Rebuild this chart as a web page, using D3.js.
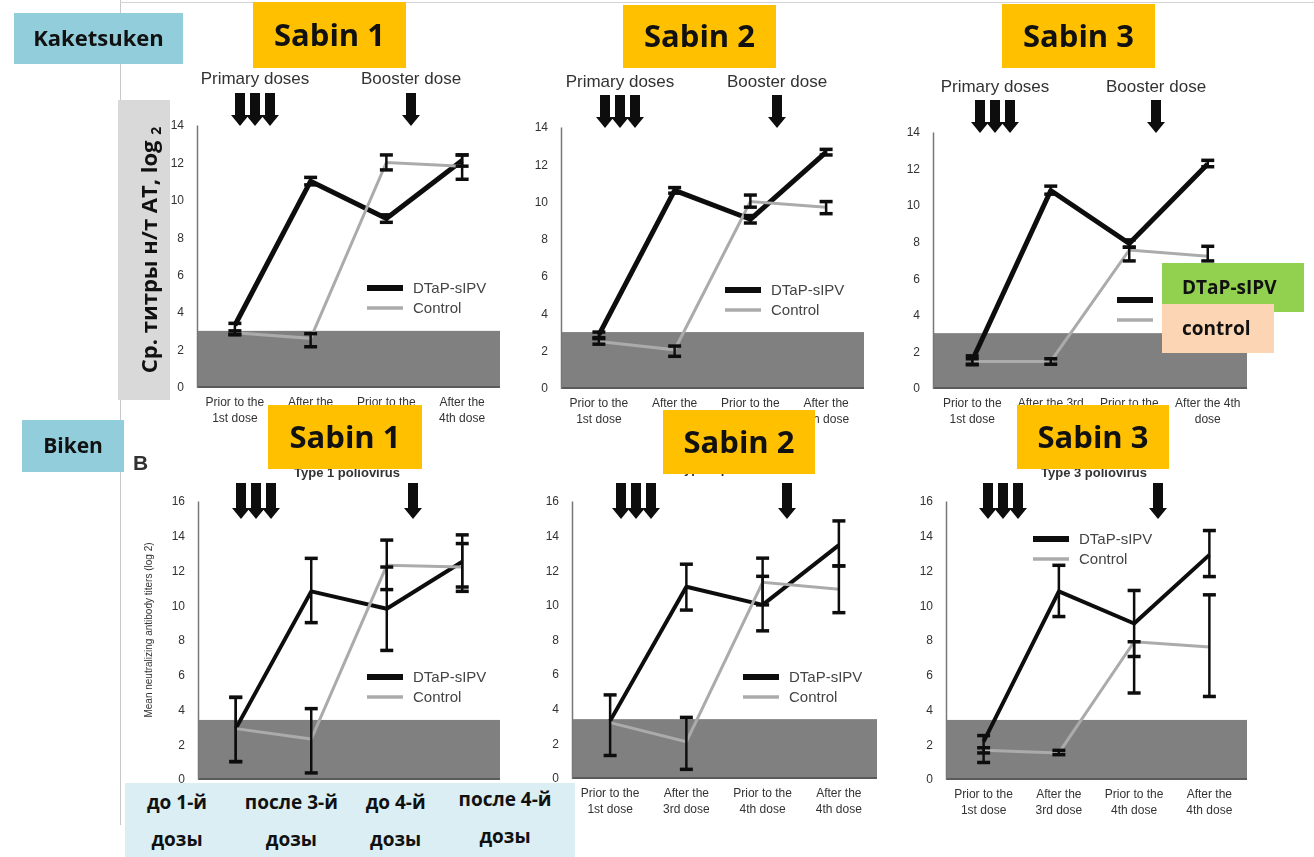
<!DOCTYPE html>
<html>
<head>
<meta charset="utf-8">
<script src="https://cdn.jsdelivr.net/npm/d3@7"></script>
<style>
  body { margin: 0; background: #fff; }
  svg { display: block; }
</style>
</head>
<body>
<div id="chart"></div>
<script>

// ---- data ----
var doseKeys = ["pre1", "post3", "pre4", "post4"];
var doseLabels = [["Prior to the", "1st dose"], ["After the", "3rd dose"], ["Prior to the", "4th dose"], ["After the", "4th dose"]];
// second lines that sit under the Sabin boxes are left out
var doseLabelsTop = [["Prior to the", "1st dose"], ["After the", ""], ["Prior to the", ""], ["After the", "4th dose"]];
var doseLabelsK3 = [["Prior to the", "1st dose"], ["After the 3rd", ""], ["Prior to the", ""], ["After the 4th", "dose"]];
var ruLabels = [["до 1-й", "дозы"], ["после 3-й", "дозы"], ["до 4-й", "дозы"], ["после 4-й", "дозы"]];
var seriesNames = ["DTaP-sIPV", "Control"];

var ticksKaketsuken = [0, 2, 4, 6, 8, 10, 12, 14];
var ticksBiken = [0, 2, 4, 6, 8, 10, 12, 14, 16];

// Kaketsuken, Sabin 1
var kak1Dtap   = [3.3, 11.0, 9.0, 12.1];
var kak1DtapLo = [2.8, 10.8, 8.8, 11.8];
var kak1DtapHi = [3.4, 11.2, 9.2, 12.4];
var kak1Ctrl   = [2.9, 2.6, 12.0, 11.8];
var kak1CtrlLo = [2.8, 2.15, 11.6, 11.1];
var kak1CtrlHi = [3.0, 2.85, 12.4, 12.4];

// Kaketsuken, Sabin 2
var kak2Dtap   = [2.85, 10.6, 9.05, 12.65];
var kak2DtapLo = [2.7, 10.45, 8.85, 12.5];
var kak2DtapHi = [3.0, 10.75, 9.25, 12.8];
var kak2Ctrl   = [2.5, 2.05, 10.0, 9.7];
var kak2CtrlLo = [2.35, 1.7, 9.7, 9.35];
var kak2CtrlHi = [2.65, 2.25, 10.35, 10.0];

// Kaketsuken, Sabin 3
var kak3Dtap   = [1.5, 10.8, 7.9, 12.25];
var kak3DtapLo = [1.27, 10.6, 7.7, 12.1];
var kak3DtapHi = [1.76, 11.04, 8.1, 12.45];
var kak3Ctrl   = [1.45, 1.45, 7.55, 7.2];
var kak3CtrlLo = [1.3, 1.3, 6.95, 6.95];
var kak3CtrlHi = [1.6, 1.6, 7.7, 7.75];

// Biken, Sabin 1
var bik1Dtap   = [2.9, 10.8, 9.8, 12.5];
var bik1DtapLo = [1.0, 9.0, 7.4, 11.05];
var bik1DtapHi = [4.7, 12.7, 12.2, 14.05];
var bik1Ctrl   = [2.9, 2.3, 12.3, 12.2];
var bik1CtrlLo = [1.0, 0.35, 10.9, 10.8];
var bik1CtrlHi = [4.7, 4.05, 13.75, 13.55];

// Biken, Sabin 2
var bik2Dtap   = [3.3, 11.05, 10.0, 13.45];
var bik2DtapLo = [1.3, 9.7, 8.5, 12.25];
var bik2DtapHi = [4.8, 12.35, 12.7, 14.85];
var bik2Ctrl   = [3.2, 2.1, 11.3, 10.9];
var bik2CtrlLo = [3.2, 0.5, 10.0, 9.55];
var bik2CtrlHi = [3.2, 3.5, 11.65, 12.25];

// Biken, Sabin 3
var bik3Dtap   = [2.15, 10.8, 8.95, 12.9];
var bik3DtapLo = [0.95, 9.35, 7.05, 11.65];
var bik3DtapHi = [2.5, 12.3, 10.85, 14.3];
var bik3Ctrl   = [1.65, 1.5, 7.9, 7.6];
var bik3CtrlLo = [1.5, 1.4, 4.95, 4.75];
var bik3CtrlHi = [1.8, 1.65, 7.9, 10.6];

var thresholdKaketsuken = 3.0;
var thresholdBiken = 3.4;

// ---- layout ----
var W = 1314, H = 857;

var panels = [
  { x0: 197, x1: 500, yTop: 125, yBot: 387, yMax: 14, ticks: ticksKaketsuken, thr: thresholdKaketsuken,
    dtap: kak1Dtap, dtapLo: kak1DtapLo, dtapHi: kak1DtapHi, ctrl: kak1Ctrl, ctrlLo: kak1CtrlLo, ctrlHi: kak1CtrlHi,
    labels: doseLabelsTop, primaryX: 255, boosterX: 411, arrowTop: 93, arrowBot: 126, doseTextY: 84,
    legendX: 367, legendY: 288, legendText: true, big: true },
  { x0: 561, x1: 864, yTop: 127, yBot: 388, yMax: 14, ticks: ticksKaketsuken, thr: thresholdKaketsuken,
    dtap: kak2Dtap, dtapLo: kak2DtapLo, dtapHi: kak2DtapHi, ctrl: kak2Ctrl, ctrlLo: kak2CtrlLo, ctrlHi: kak2CtrlHi,
    labels: doseLabelsTop, primaryX: 620, boosterX: 777, arrowTop: 95, arrowBot: 128, doseTextY: 87,
    legendX: 725, legendY: 290, legendText: true, big: true },
  { x0: 933, x1: 1247, yTop: 132, yBot: 388, yMax: 14, ticks: ticksKaketsuken, thr: thresholdKaketsuken,
    dtap: kak3Dtap, dtapLo: kak3DtapLo, dtapHi: kak3DtapHi, ctrl: kak3Ctrl, ctrlLo: kak3CtrlLo, ctrlHi: kak3CtrlHi,
    labels: doseLabelsK3, primaryX: 995, boosterX: 1156, arrowTop: 100, arrowBot: 133, doseTextY: 92,
    legendX: 1117, legendY: 300, legendText: false, big: true },
  { x0: 198, x1: 500, yTop: 501, yBot: 779, yMax: 16, ticks: ticksBiken, thr: thresholdBiken,
    dtap: bik1Dtap, dtapLo: bik1DtapLo, dtapHi: bik1DtapHi, ctrl: bik1Ctrl, ctrlLo: bik1CtrlLo, ctrlHi: bik1CtrlHi,
    labels: null, primaryX: 256, boosterX: 413, arrowTop: 483, arrowBot: 519,
    legendX: 367, legendY: 677, legendText: true, title: "Type 1 poliovirus", titleX: 347, titleY: 477 },
  { x0: 572, x1: 877, yTop: 501, yBot: 778, yMax: 16, ticks: ticksBiken, thr: thresholdBiken,
    dtap: bik2Dtap, dtapLo: bik2DtapLo, dtapHi: bik2DtapHi, ctrl: bik2Ctrl, ctrlLo: bik2CtrlLo, ctrlHi: bik2CtrlHi,
    labels: doseLabels, primaryX: 636, boosterX: 787, arrowTop: 483, arrowBot: 519,
    legendX: 743, legendY: 677, legendText: true, title: "Type 2 poliovirus", titleX: 730, titleY: 473 },
  { x0: 946, x1: 1247, yTop: 501, yBot: 779, yMax: 16, ticks: ticksBiken, thr: thresholdBiken,
    dtap: bik3Dtap, dtapLo: bik3DtapLo, dtapHi: bik3DtapHi, ctrl: bik3Ctrl, ctrlLo: bik3CtrlLo, ctrlHi: bik3CtrlHi,
    labels: doseLabels, primaryX: 1003, boosterX: 1158, arrowTop: 483, arrowBot: 519,
    legendX: 1033, legendY: 539, legendText: true, title: "Type 3 poliovirus", titleX: 1094, titleY: 477 }
];

var svg = d3.select("#chart").append("svg")
    .attr("width", W)
    .attr("height", H)
    .attr("viewBox", "0 0 " + W + " " + H);

svg.append("defs").append("filter")
    .attr("id", "soft")
    .append("feGaussianBlur")
    .attr("stdDeviation", 0.6);

var sans = "'Liberation Sans', Arial, sans-serif";
var bold = "'Open Sans', 'Noto Sans', sans-serif";

// the pasted picture's frame
svg.append("line").attr("x1", 120.5).attr("x2", 120.5).attr("y1", 0).attr("y2", 825)
    .attr("stroke", "#c8c8c8").attr("stroke-width", 1);
svg.append("line").attr("x1", 120).attr("x2", W).attr("y1", 2.5).attr("y2", 2.5)
    .attr("stroke", "#d4d4d4").attr("stroke-width", 1);

function downArrow(g, cx, top, bot) {
    var sw = 5, hw = 9, hh = 11;
    var d = "M" + (cx - sw) + "," + top +
        "L" + (cx + sw) + "," + top +
        "L" + (cx + sw) + "," + (bot - hh) +
        "L" + (cx + hw) + "," + (bot - hh) +
        "L" + cx + "," + bot +
        "L" + (cx - hw) + "," + (bot - hh) +
        "L" + (cx - sw) + "," + (bot - hh) + "Z";
    g.append("path").attr("d", d).attr("fill", "#111");
}

function drawPanel(p) {

    var g = svg.append("g").attr("filter", "url(#soft)");

    var x = d3.scalePoint().domain(doseKeys).range([p.x0, p.x1]).padding(0.5);
    var y = d3.scaleLinear().domain([0, p.yMax]).range([p.yBot, p.yTop]);

    // detection limit band
    g.append("rect")
        .attr("x", p.x0)
        .attr("y", y(p.thr))
        .attr("width", p.x1 - p.x0)
        .attr("height", y(0) - y(p.thr))
        .attr("fill", "#808080");

    g.append("line")
        .attr("x1", p.x0).attr("x2", p.x1)
        .attr("y1", y(0)).attr("y2", y(0))
        .attr("stroke", "#5a5a5a").attr("stroke-width", 2);

    // y axis
    var ax = g.append("g")
        .attr("transform", "translate(" + p.x0 + ",0)")
        .call(d3.axisLeft(y).tickValues(p.ticks).tickSize(0).tickSizeOuter(0).tickPadding(13));
    ax.select(".domain").attr("stroke", "#777").attr("stroke-width", 1.5);
    ax.selectAll("text")
        .attr("font-family", sans)
        .attr("font-size", 12)
        .attr("fill", "#333");

    // x labels
    if (p.labels) {
        doseKeys.forEach(function(k, i){
            var t = g.append("text")
                .attr("x", x(k))
                .attr("y", p.yBot + 19)
                .attr("text-anchor", "middle")
                .attr("font-family", sans)
                .attr("font-size", 12)
                .attr("fill", "#333");
            t.append("tspan").attr("x", x(k)).text(p.labels[i][0]);
            if (p.labels[i][1]) t.append("tspan").attr("x", x(k)).attr("dy", 16).text(p.labels[i][1]);
        });
    }

    var line = d3.line()
        .x(function(d, i){ return x(doseKeys[i]); })
        .y(function(d){ return y(d); });

    g.append("path").datum(p.dtap)
        .attr("d", line)
        .attr("fill", "none")
        .attr("stroke", "#111")
        .attr("stroke-width", p.big ? 5 : 4)
        .attr("stroke-linejoin", "round");

    g.append("path").datum(p.ctrl)
        .attr("d", line)
        .attr("fill", "none")
        .attr("stroke", "#ababab")
        .attr("stroke-width", 3);

    // error bars
    function errBars(lo, hi) {
        var capW = 6.5;
        doseKeys.forEach(function(k, i){
            if (lo[i] === hi[i]) return;
            var cx = x(k);
            g.append("line")
                .attr("x1", cx).attr("x2", cx)
                .attr("y1", y(lo[i])).attr("y2", y(hi[i]))
                .attr("stroke", "#111").attr("stroke-width", 2.5);
            [lo[i], hi[i]].forEach(function(v){
                g.append("line")
                    .attr("x1", cx - capW).attr("x2", cx + capW)
                    .attr("y1", y(v)).attr("y2", y(v))
                    .attr("stroke", "#111").attr("stroke-width", 3.5);
            });
        });
    }
    errBars(p.dtapLo, p.dtapHi);
    errBars(p.ctrlLo, p.ctrlHi);

    // legend
    var lg = g.append("g").attr("transform", "translate(" + p.legendX + "," + p.legendY + ")");
    lg.append("line").attr("x1", 0).attr("x2", 36).attr("y1", 0).attr("y2", 0)
        .attr("stroke", "#111").attr("stroke-width", 6);
    lg.append("line").attr("x1", 0).attr("x2", 36).attr("y1", 20).attr("y2", 20)
        .attr("stroke", "#ababab").attr("stroke-width", 3.5);
    if (p.legendText) {
        seriesNames.forEach(function(s, i){
            lg.append("text")
                .attr("x", 46)
                .attr("y", i * 20 + 5)
                .attr("font-family", sans)
                .attr("font-size", 15)
                .attr("fill", "#444")
                .text(s);
        });
    }

    // dosing arrows
    [-15, 0, 15].forEach(function(o){ downArrow(g, p.primaryX + o, p.arrowTop, p.arrowBot); });
    downArrow(g, p.boosterX, p.arrowTop, p.arrowBot);

    if (p.doseTextY) {
        g.append("text").attr("x", p.primaryX).attr("y", p.doseTextY)
            .attr("text-anchor", "middle").attr("font-family", sans).attr("font-size", 17)
            .attr("fill", "#333").text("Primary doses");
        g.append("text").attr("x", p.boosterX).attr("y", p.doseTextY)
            .attr("text-anchor", "middle").attr("font-family", sans).attr("font-size", 17)
            .attr("fill", "#333").text("Booster dose");
    }

    if (p.title) {
        g.append("text").attr("x", p.titleX).attr("y", p.titleY)
            .attr("text-anchor", "middle").attr("font-family", sans).attr("font-size", 13)
            .attr("font-weight", "bold").attr("fill", "#333").text(p.title);
    }
}

panels.forEach(drawPanel);

// bits of the original figure B
var fig = svg.append("g").attr("filter", "url(#soft)");
fig.append("text").attr("x", 133).attr("y", 470)
    .attr("font-family", sans).attr("font-size", 21).attr("font-weight", "bold")
    .attr("fill", "#333").text("B");
fig.append("text")
    .attr("transform", "translate(152,630) rotate(-90)")
    .attr("text-anchor", "middle").attr("font-family", sans).attr("font-size", 10)
    .attr("fill", "#333").text("Mean neutralizing antibody titers (log 2)");

// ---- slide overlays ----
function labelBox(x, y, w, h, fill, str, size, anchor, tx) {
    svg.append("rect").attr("x", x).attr("y", y).attr("width", w).attr("height", h).attr("fill", fill);
    svg.append("text")
        .attr("x", anchor === "start" ? tx : x + w / 2)
        .attr("y", y + h / 2)
        .attr("dy", "0.35em")
        .attr("text-anchor", anchor || "middle")
        .attr("font-family", bold)
        .attr("font-weight", "bold")
        .attr("font-size", size)
        .attr("fill", "#111")
        .text(str);
}

labelBox(14, 13, 169, 51, "#92CDDC", "Kaketsuken", 22);
labelBox(22, 420, 102, 52, "#92CDDC", "Biken", 21);

labelBox(253, 2, 153, 66, "#FFC000", "Sabin 1", 31);
labelBox(623, 5, 153, 63, "#FFC000", "Sabin 2", 31);
labelBox(1002, 4, 153, 64, "#FFC000", "Sabin 3", 31);
labelBox(268, 405, 154, 64, "#FFC000", "Sabin 1", 31);
labelBox(663, 410, 152, 64, "#FFC000", "Sabin 2", 31);
labelBox(1017, 405, 152, 64, "#FFC000", "Sabin 3", 31);

labelBox(1162, 263, 142, 49, "#92D050", "DTaP-sIPV", 19, "start", 1182);
labelBox(1162, 304, 112, 49, "#FCD5B4", "control", 19, "start", 1182);

// y title box
svg.append("rect").attr("x", 118).attr("y", 100).attr("width", 52).attr("height", 300).attr("fill", "#d9d9d9");
var yt = svg.append("text")
    .attr("transform", "translate(157,250) rotate(-90)")
    .attr("text-anchor", "middle")
    .attr("font-family", bold)
    .attr("font-weight", "bold")
    .attr("font-size", 22)
    .attr("fill", "#111");
yt.append("tspan").text("Ср. титры н/т АТ, log ");
yt.append("tspan").attr("font-size", 14).attr("dy", 4).text("2");

// russian x labels
svg.append("rect").attr("x", 125).attr("y", 783).attr("width", 450).attr("height", 74).attr("fill", "#DAEEF3");
var ruX = d3.scalePoint().domain(doseKeys).range([177, 505]);
doseKeys.forEach(function(k, i){
    var t = svg.append("text")
        .attr("x", ruX(k) + (i === 1 ? 5 : 0))
        .attr("y", i === 3 ? 806 : 809)
        .attr("text-anchor", "middle")
        .attr("font-family", bold)
        .attr("font-weight", "bold")
        .attr("font-size", 19)
        .attr("fill", "#111");
    t.append("tspan").attr("x", ruX(k) + (i === 1 ? 5 : 0)).text(ruLabels[i][0]);
    t.append("tspan").attr("x", ruX(k) + (i === 1 ? 5 : 0)).attr("dy", 37).text(ruLabels[i][1]);
});

</script>
</body>
</html>
